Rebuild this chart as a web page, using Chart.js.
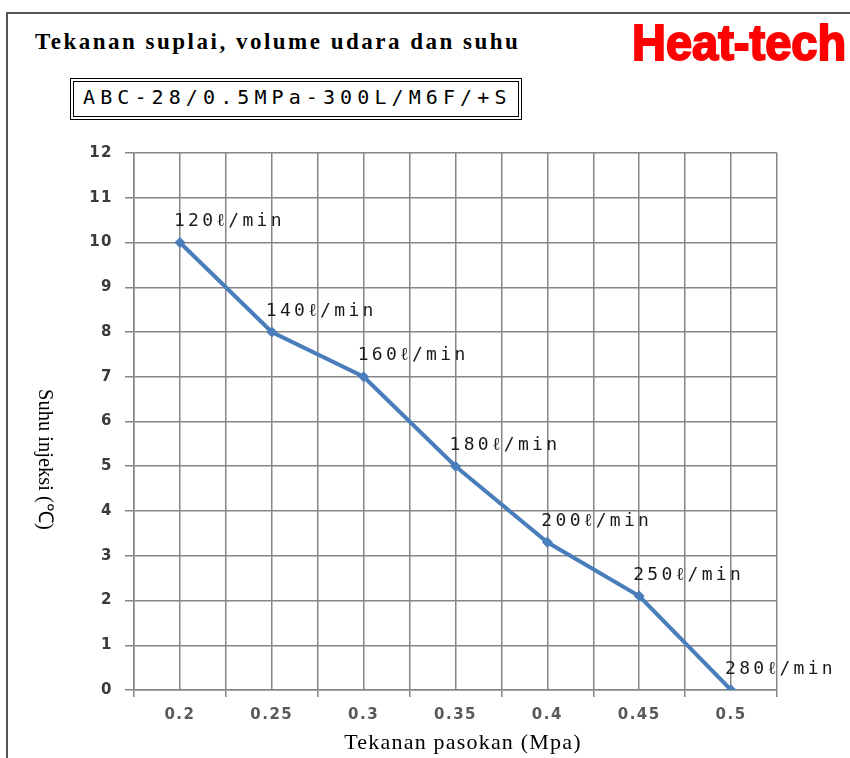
<!DOCTYPE html>
<html>
<head>
<meta charset="utf-8">
<script src="https://cdn.jsdelivr.net/npm/chart.js@4.4.0/dist/chart.umd.min.js"></script>
<style>
  html, body { margin: 0; padding: 0; background: #fff; }
  #page { position: relative; width: 850px; height: 758px; overflow: hidden; }
  #frame { position: absolute; left: 6px; top: 12px; width: 900px; height: 800px;
           border-left: 2px solid #555; border-top: 2px solid #555; }
  #title { position: absolute; left: 35px; top: 29px; font: bold 23px "Liberation Serif", serif;
           letter-spacing: 2.5px; color: #000; white-space: nowrap; }
  #brand { position: absolute; left: 632px; top: 16px; font: bold 50px/1.1 "Liberation Sans", sans-serif;
           color: #ff0000; white-space: nowrap; transform: scaleX(0.94); transform-origin: left top;
           -webkit-text-stroke: 2px #ff0000; }
  #model { position: absolute; left: 70px; top: 78px; height: 34px; width: 444px;
           border: 4px double #000; }
  #model span { position: absolute; left: 9px; top: 3px; font: 20px "DejaVu Sans Mono", monospace;
           letter-spacing: 5.1px; white-space: nowrap; color: #000; }
  #ytitle { position: absolute; left: 61px; top: 389px; transform: rotate(90deg); transform-origin: left top;
           font: 20.5px "Liberation Serif", serif; color: #000; white-space: nowrap; }
  #xtitle { position: absolute; left: 463px; top: 729px; transform: translateX(-50%);
           font: 22px "Liberation Serif", serif; letter-spacing: 1.2px; color: #000; white-space: nowrap; }
  canvas { position: absolute; left: 0; top: 0; }
</style>
</head>
<body>
<div id="page">
  <div id="frame"></div>
  <div id="title">Tekanan suplai, volume udara dan suhu</div>
  <div id="brand">Heat-tech</div>
  <div id="model"><span>ABC-28/0.5MPa-300L/M6F/+S</span></div>
  <canvas id="chart" width="850" height="758"></canvas>
  <div id="ytitle">Suhu injeksi (℃)</div>
  <div id="xtitle">Tekanan pasokan (Mpa)</div>
</div>
<script>
// supply pressure (MPa), injection temperature (deg C), air volume labels
const pressure = [0.2, 0.25, 0.3, 0.35, 0.4, 0.45, 0.5];
const temperature = [10, 8, 7, 5, 3.3, 2.1, 0];
const flowLabels = ['120ℓ/min', '140ℓ/min', '160ℓ/min', '180ℓ/min', '200ℓ/min', '250ℓ/min', '280ℓ/min'];

const gridGray = '#868686';
const lineBlue = '#4a7ebb';

// grid runs in steps of 0.025, labels only on every 0.05
function isLabelTick(value) {
    return Math.round(value * 1000) % 50 === 0;
}

const spacingPlugin = {
    id: 'spacing',
    beforeDraw(chart) {
        chart.ctx.letterSpacing = '1.5px';
    }
};

const flowLabelPlugin = {
    id: 'flowLabels',
    afterDatasetsDraw(chart) {
        const ctx = chart.ctx;
        const meta = chart.getDatasetMeta(0);
        ctx.save();
        ctx.letterSpacing = '3.3px';
        ctx.font = '18px "DejaVu Sans Mono", monospace';
        ctx.fillStyle = '#1a1a1a';
        ctx.textAlign = 'left';
        ctx.textBaseline = 'middle';
        meta.data.forEach((pt, i) => {
            ctx.fillText(flowLabels[i], pt.x - 6, pt.y - 21);
        });
        ctx.restore();
    }
};

const points = pressure.map((p, i) => ({ x: p, y: temperature[i] }));

new Chart(document.getElementById('chart'), {
    type: 'line',
    data: {
        datasets: [{
            data: points,
            borderColor: lineBlue,
            backgroundColor: lineBlue,
            borderWidth: 4,
            pointStyle: 'rectRot',
            pointRadius: 5.5,
            pointBorderWidth: 0,
            tension: 0
        }]
    },
    options: {
        responsive: false,
        animation: false,
        layout: { padding: { left: 60, right: 73, top: 153, bottom: 0 } },
        plugins: {
            legend: { display: false },
            tooltip: { enabled: false }
        },
        scales: {
            x: {
                type: 'linear',
                min: 0.175,
                max: 0.525,
                afterFit: (scale) => { scale.height = 68; },
                ticks: {
                    stepSize: 0.025,
                    autoSkip: false,
                    maxRotation: 0,
                    padding: 9,
                    color: '#595959',
                    font: { family: '"DejaVu Sans", sans-serif', size: 15, weight: 'bold' },
                    callback: (value) => isLabelTick(value) ? String(Math.round(value * 1000) / 1000) : ''
                },
                grid: {
                    color: gridGray,
                    lineWidth: 1.5,
                    tickLength: 7,
                    tickColor: (ctx) => (ctx.tick && isLabelTick(ctx.tick.value)) ? 'rgba(0,0,0,0)' : gridGray
                },
                border: { color: gridGray, width: 1.5 }
            },
            y: {
                min: 0,
                max: 12,
                afterFit: (scale) => { scale.width = 74; },
                ticks: {
                    stepSize: 1,
                    padding: 12,
                    color: '#3a3a3a',
                    font: { family: '"DejaVu Sans", sans-serif', size: 15, weight: 'bold' }
                },
                grid: { color: gridGray, lineWidth: 1.5, tickLength: 9 },
                border: { color: gridGray, width: 1.5 }
            }
        }
    },
    plugins: [spacingPlugin, flowLabelPlugin]
});
</script>
</body>
</html>
